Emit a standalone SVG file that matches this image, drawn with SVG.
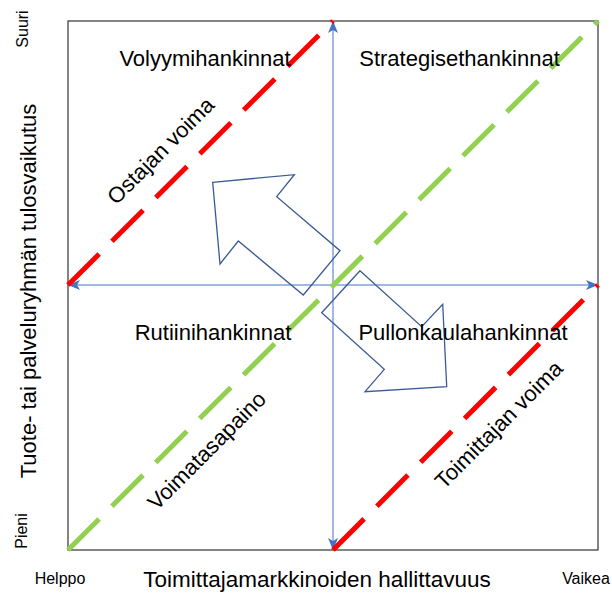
<svg xmlns="http://www.w3.org/2000/svg" width="612" height="595" viewBox="0 0 612 595">
<style>
.t{font-family:"Liberation Sans",Arial,sans-serif;fill:#000;}
.big{font-size:22px;}
.sm{font-size:16px;}
.axis{stroke:#4472C4;stroke-width:1;fill:none;}
.red{stroke:#FF0000;stroke-width:5;stroke-dasharray:44 18;fill:none;}
.green{stroke:#92D050;stroke-width:5;stroke-dasharray:44 18;fill:none;}
.blk{fill:none;stroke:#3A5A96;stroke-width:1.3;stroke-linejoin:miter;}
</style>
<defs>
<marker id="ah" viewBox="0 0 12 10" refX="11" refY="5" markerWidth="12" markerHeight="10" markerUnits="userSpaceOnUse" orient="auto-start-reverse">
<path d="M0,0 L12,5 L0,10 L3,5 z" fill="#4472C4"/>
</marker>
</defs>
<rect width="612" height="595" fill="#fff"/>
<g id="frame">
<rect x="68" y="21" width="530" height="529" fill="none" stroke="#333" stroke-width="1.2"/>
</g>
<g id="connectors">
<line class="axis" x1="69" y1="285" x2="597" y2="285" marker-start="url(#ah)" marker-end="url(#ah)"/>
<line class="axis" x1="333" y1="22" x2="333" y2="549" marker-start="url(#ah)" marker-end="url(#ah)"/>
<line class="red" x1="68" y1="285" x2="333" y2="21"/>
<line class="red" x1="333" y1="550" x2="598" y2="285"/>
<line class="green" x1="68" y1="550" x2="598" y2="21"/>
</g>
<g id="arrow-up-left">
<polygon class="blk" points="212.7,182.3 294.3,174.7 276.7,196.7 340,250.7 303.3,295 238.3,241 220,264"/>
</g>
<g id="arrow-down-right">
<polygon class="blk" points="360,270.7 421.7,326.7 442.7,304.3 446.7,386.7 365,391.7 384.3,369.3 321.7,312.7"/>
</g>
<g id="quadrants">
<text class="t big" x="205" y="66" text-anchor="middle">Volyymihankinnat</text>
<text class="t big" x="459.5" y="66" text-anchor="middle">Strategisethankinnat</text>
<text class="t big" x="213" y="340" text-anchor="middle">Rutiinihankinnat</text>
<text class="t big" x="463" y="340" text-anchor="middle">Pullonkaulahankinnat</text>
</g>
<g id="line-labels">
<text class="t big" text-anchor="middle" transform="translate(166,156) rotate(-45)">Ostajan voima</text>
<text class="t big" text-anchor="middle" transform="translate(504,430) rotate(-45)">Toimittajan voima</text>
<text class="t big" text-anchor="middle" transform="translate(212,456) rotate(-45)">Voimatasapaino</text>
</g>
<g id="axis-labels">
<text class="t big" text-anchor="middle" transform="translate(36,291) rotate(-90)">Tuote- tai palveluryhmän tulosvaikutus</text>
<text class="t" x="317" y="587" text-anchor="middle" style="font-size:22.5px">Toimittajamarkkinoiden hallittavuus</text>
<text class="t sm" text-anchor="middle" transform="translate(28,29) rotate(-90)">Suuri</text>
<text class="t sm" text-anchor="middle" transform="translate(27,531) rotate(-90)">Pieni</text>
<text class="t sm" x="60" y="584" text-anchor="middle">Helppo</text>
<text class="t sm" x="586" y="584" text-anchor="middle">Vaikea</text>
</g>
</svg>
